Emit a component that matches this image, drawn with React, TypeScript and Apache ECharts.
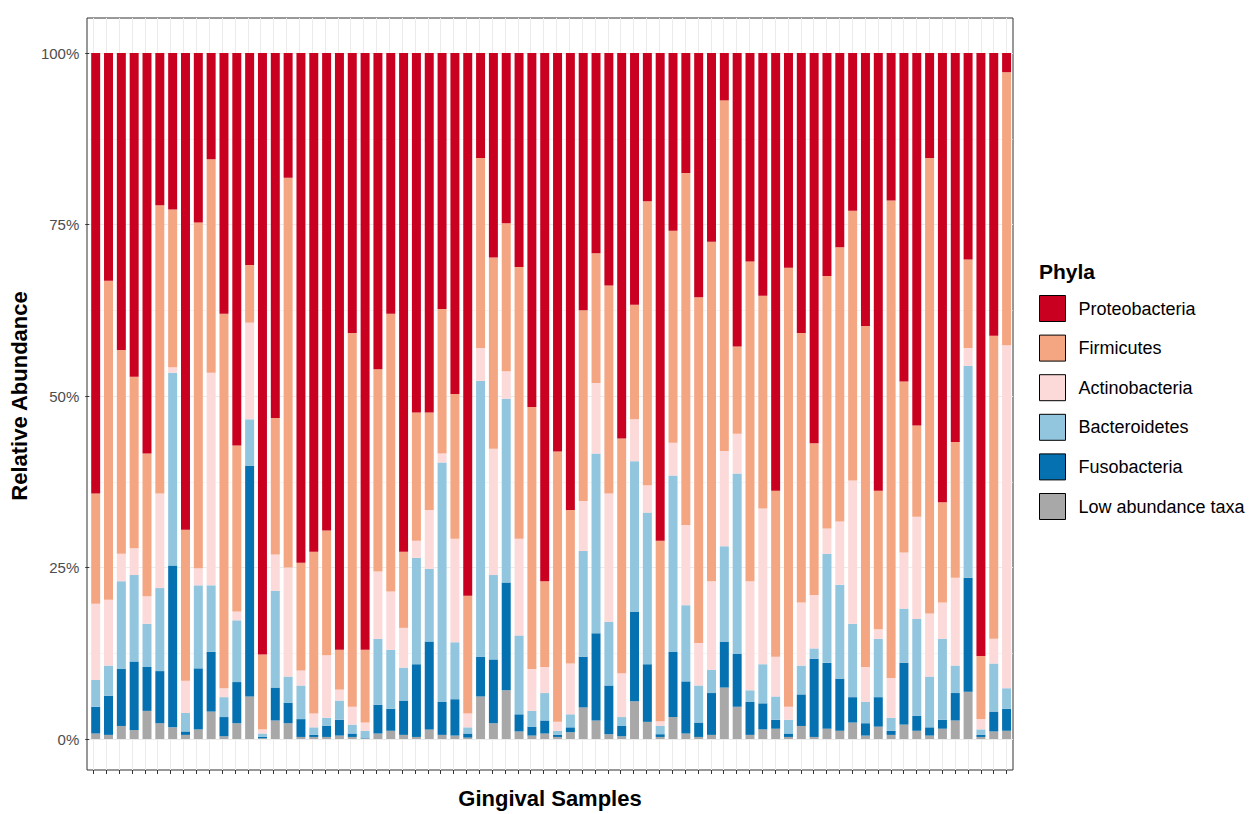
import React, { useEffect, useRef } from "react";
import * as echarts from "echarts";

// Sample identifiers along the x axis (labels are not drawn)
const samples: string[] = Array.from({ length: 72 }, (_, i) => `G${String(i + 1).padStart(2, "0")}`);

const phyla = [
  "Proteobacteria",
  "Firmicutes",
  "Actinobacteria",
  "Bacteroidetes",
  "Fusobacteria",
  "Low abundance taxa",
];

// Relative abundance (%) per sample for each phylum
const lowAbundance = [0.8, 0.6, 1.9, 1.3, 4.1, 2.3, 1.7, 0.6, 1.4, 4.0, 0.4, 2.3, 6.2, 0.1, 2.7, 2.3, 0.3, 0.3, 0.3, 0.5, 0.3, 0.1, 0.8, 1.2, 0.6, 0.3, 1.4, 0.6, 0.5, 0.2, 6.2, 2.3, 7.1, 1.1, 0.5, 0.8, 0.3, 1.0, 4.6, 2.7, 0.7, 0.4, 5.5, 2.5, 0.3, 3.2, 0.8, 0.3, 0.6, 7.5, 4.7, 0.6, 1.4, 1.5, 0.3, 1.9, 0.3, 1.5, 1.2, 2.4, 0.5, 1.8, 0.6, 2.1, 1.2, 0.5, 1.5, 2.7, 6.9, 0.3, 1.1, 1.2];
const fusobacteria = [3.9, 5.7, 8.3, 10.0, 6.4, 7.6, 23.6, 0.5, 8.9, 8.7, 2.8, 6.0, 33.6, 0.2, 4.8, 3.0, 2.6, 0.3, 1.6, 2.3, 0.5, 0.1, 4.2, 3.2, 5.0, 10.6, 12.8, 4.8, 5.3, 0.6, 5.8, 9.3, 15.7, 2.5, 1.3, 1.9, 0.3, 0.7, 7.4, 12.7, 7.1, 1.5, 13.0, 8.4, 0.4, 9.5, 7.6, 2.1, 6.1, 6.7, 7.7, 4.8, 3.8, 1.3, 0.5, 4.6, 11.4, 9.6, 7.6, 3.7, 1.8, 4.3, 0.6, 9.0, 2.2, 1.2, 1.3, 4.0, 16.6, 0.3, 2.9, 3.2];
const bacteroidetes = [3.9, 4.4, 12.8, 12.6, 6.3, 12.1, 28.1, 2.7, 12.1, 9.7, 2.9, 9.0, 6.8, 0.5, 14.1, 3.8, 4.9, 1.1, 1.2, 2.8, 1.3, 1.0, 9.6, 8.6, 4.8, 15.5, 10.6, 34.9, 8.3, 0.9, 40.2, 12.3, 26.8, 11.5, 2.3, 4.0, 0.6, 1.9, 15.4, 26.2, 9.3, 1.3, 22.0, 22.1, 1.2, 25.7, 11.1, 5.4, 3.4, 13.9, 26.3, 1.7, 5.7, 3.4, 2.0, 4.2, 1.5, 15.9, 13.7, 10.7, 3.1, 8.5, 1.9, 7.9, 14.1, 7.4, 11.8, 4.0, 30.9, 0.8, 7.0, 3.0];
const actinobacteria = [11.1, 9.6, 4.0, 3.9, 4.0, 13.8, 0.8, 4.7, 2.5, 31.0, 1.3, 1.3, 14.1, 0.6, 5.3, 15.9, 2.2, 2.0, 9.1, 1.6, 2.6, 1.2, 9.8, 8.5, 5.8, 2.5, 8.6, 1.3, 15.1, 2.0, 4.8, 18.4, 4.0, 14.1, 6.1, 3.8, 1.3, 7.4, 7.3, 10.3, 18.7, 6.4, 6.1, 4.0, 0.7, 4.8, 11.7, 6.2, 12.9, 13.9, 5.8, 15.9, 22.7, 5.8, 1.9, 9.2, 7.8, 3.7, 9.2, 20.9, 5.1, 1.4, 5.8, 8.2, 14.9, 9.2, 5.3, 12.8, 2.6, 1.5, 3.6, 50.0];
const firmicutes = [16.1, 46.5, 29.7, 25.0, 20.8, 42.0, 23.0, 22.0, 50.4, 31.1, 54.6, 24.2, 8.4, 10.9, 19.9, 56.8, 15.7, 23.6, 18.2, 5.8, 54.5, 10.6, 29.5, 40.5, 11.1, 18.7, 14.2, 21.1, 21.1, 17.2, 27.7, 27.9, 21.6, 39.6, 38.2, 12.5, 39.4, 22.4, 27.8, 18.9, 30.3, 34.2, 16.7, 41.4, 26.3, 30.9, 51.3, 50.4, 49.5, 51.1, 12.7, 46.6, 31.0, 24.2, 64.0, 39.3, 22.1, 36.8, 40.0, 39.3, 49.7, 20.2, 69.6, 24.9, 13.3, 66.4, 14.6, 19.8, 12.9, 9.2, 44.2, 39.8];
const proteobacteria = [64.2, 33.2, 43.3, 47.2, 58.4, 22.2, 22.8, 69.5, 24.7, 15.5, 38.0, 57.2, 30.9, 87.7, 53.2, 18.2, 74.3, 72.7, 69.6, 87.0, 40.8, 87.0, 46.1, 38.0, 72.7, 52.4, 52.4, 37.3, 49.7, 79.1, 15.3, 29.8, 24.8, 31.2, 51.6, 77.0, 58.1, 66.6, 37.5, 29.2, 33.9, 56.2, 36.7, 21.6, 71.1, 25.9, 17.5, 35.6, 27.5, 6.9, 42.8, 30.4, 35.4, 63.8, 31.3, 40.8, 56.9, 32.5, 28.3, 23.0, 39.8, 63.8, 21.5, 47.9, 54.3, 15.3, 65.5, 56.7, 30.1, 87.9, 41.2, 2.8];

const colors: Record<string, string> = {
  Proteobacteria: "#CA0020",
  Firmicutes: "#F4A582",
  Actinobacteria: "#FCDADA",
  Bacteroidetes: "#92C5DE",
  Fusobacteria: "#0571B0",
  "Low abundance taxa": "#A8A8A8",
};

// Stacking order, bottom to top
const stackOrder: [string, number[]][] = [
  ["Low abundance taxa", lowAbundance],
  ["Fusobacteria", fusobacteria],
  ["Bacteroidetes", bacteroidetes],
  ["Actinobacteria", actinobacteria],
  ["Firmicutes", firmicutes],
  ["Proteobacteria", proteobacteria],
];

const FONT = "'Liberation Sans', Arial, Helvetica, sans-serif";

export default function App() {
  const ref = useRef<HTMLDivElement>(null);

  useEffect(() => {
    document.body.style.margin = "0";
    const chart = echarts.init(ref.current!, null, { renderer: "svg" });

    chart.setOption({
      animation: false,
      textStyle: { fontFamily: FONT },
      title: {
        text: "Phyla",
        left: 1039,
        top: 261,
        padding: 0,
        textStyle: { fontSize: 21, fontWeight: "bold", color: "#000", fontFamily: FONT },
      },
      legend: {
        orient: "vertical",
        left: 1039,
        top: 295,
        padding: 0,
        itemWidth: 26,
        itemHeight: 26,
        itemGap: 12.6,
        icon: "rect",
        selectedMode: false,
        data: phyla,
        itemStyle: { borderColor: "#000", borderWidth: 1 },
        textStyle: { fontSize: 18, color: "#000", fontFamily: FONT, padding: [0, 0, 0, 8] },
      },
      grid: [
        // data area (0–100 %)
        { left: 87, right: 240, top: 53, bottom: 75 },
        // full panel with border
        {
          left: 87,
          right: 240,
          top: 18,
          bottom: 41,
          show: true,
          borderColor: "#333",
          borderWidth: 1,
          backgroundColor: "transparent",
        },
      ],
      xAxis: [
        {
          type: "category",
          gridIndex: 0,
          data: samples,
          axisLine: { show: false },
          axisTick: { show: false },
          axisLabel: { show: false },
          splitLine: { show: false },
        },
        {
          type: "category",
          gridIndex: 1,
          data: samples,
          position: "bottom",
          axisLine: { show: false, onZero: false },
          axisTick: {
            show: true,
            inside: false,
            alignWithLabel: true,
            interval: 0,
            length: 4,
            lineStyle: { color: "#333", width: 1 },
          },
          axisLabel: { show: false },
          splitLine: { show: true, interval: 0, alignWithLabel: true, lineStyle: { color: "#EBEBEB", width: 1 } },
          name: "Gingival Samples",
          nameLocation: "middle",
          nameGap: 17,
          nameTextStyle: { fontSize: 22, fontWeight: "bold", color: "#000", fontFamily: FONT },
        },
      ],
      yAxis: [
        {
          type: "value",
          gridIndex: 0,
          min: 0,
          max: 100,
          interval: 25,
          axisLine: { show: false },
          axisTick: { show: true, length: 4, lineStyle: { color: "#333", width: 1 } },
          axisLabel: { formatter: "{value}%", fontSize: 15, color: "#4D4D4D", margin: 10, fontFamily: FONT },
          splitLine: { show: true, lineStyle: { color: "#EBEBEB", width: 1 } },
          minorTick: { show: false, splitNumber: 2 },
          minorSplitLine: { show: true, lineStyle: { color: "#EDEDED", width: 0.6 } },
          name: "Relative Abundance",
          nameLocation: "middle",
          nameGap: 56,
          nameTextStyle: { fontSize: 22, fontWeight: "bold", color: "#000", fontFamily: FONT },
        },
        { type: "value", gridIndex: 1, show: false, min: 0, max: 1 },
      ],
      series: stackOrder.map(([name, values]) => ({
        name,
        type: "bar",
        stack: "abundance",
        xAxisIndex: 0,
        yAxisIndex: 0,
        barWidth: "70%",
        data: values,
        itemStyle: { color: colors[name] },
        emphasis: { disabled: true },
      })),
    });

    return () => chart.dispose();
  }, []);

  return <div ref={ref} style={{ width: 1253, height: 814 }} />;
}
